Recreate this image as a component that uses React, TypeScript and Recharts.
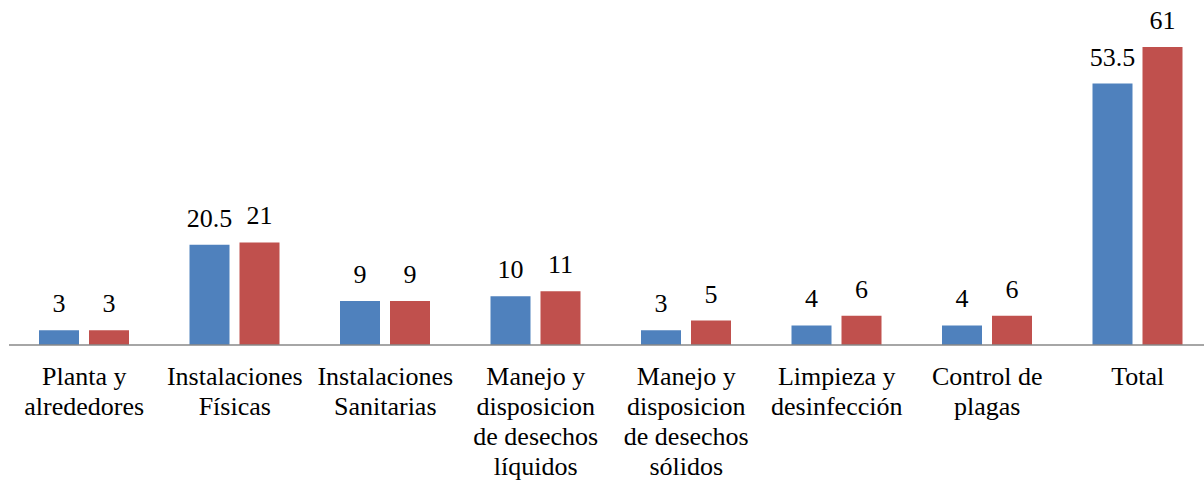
import * as React from "react";
import { BarChart, Bar, XAxis, YAxis, LabelList } from "recharts";

const categories = [
  "Planta y\nalrededores",
  "Instalaciones\nFísicas",
  "Instalaciones\nSanitarias",
  "Manejo y\ndisposicion\nde desechos\nlíquidos",
  "Manejo y\ndisposicion\nde desechos\nsólidos",
  "Limpieza y\ndesinfección",
  "Control de\nplagas",
  "Total",
];
const serieA = [3, 20.5, 9, 10, 3, 4, 4, 53.5];
const serieB = [3, 21, 9, 11, 5, 6, 6, 61];

const data = categories.map((name, i) => ({ name, a: serieA[i], b: serieB[i] }));

const font = "Liberation Serif, Times New Roman, DejaVu Serif, serif";

function CategoryTick(props: any) {
  const { x, y, payload } = props;
  const lines = String(payload.value).split("\n");
  return (
    <text
      x={x}
      y={y + 40}
      textAnchor="middle"
      style={{ fontFamily: font, fontSize: 26 }}
      fill="#000"
    >
      {lines.map((line, i) => (
        <tspan key={i} x={x} dy={i === 0 ? 0 : 30}>
          {line}
        </tspan>
      ))}
    </text>
  );
}

export default function App() {
  return (
    <div
      style={{
        position: "absolute",
        left: 0,
        top: 0,
        width: 1204,
        height: 480,
        overflow: "hidden",
        background: "#fff",
        fontFamily: font,
      }}
    >
      <BarChart
        width={1213}
        height={480}
        data={data}
        margin={{ top: 3, right: 0, left: 9, bottom: 0 }}
        barSize={40}
        barGap={10}
        style={{ fontFamily: font }}
      >
        <XAxis
          dataKey="name"
          height={135}
          interval={0}
          tickLine={false}
          tickSize={0}
          tickMargin={0}
          stroke="#898989"
          strokeWidth={1.5}
          tick={<CategoryTick />}
        />
        <YAxis hide domain={[0, 70]} />
        <Bar dataKey="a" fill="#4F81BD" isAnimationActive={false}>
          <LabelList
            dataKey="a"
            position="top"
            offset={18}
            fill="#000"
            style={{ fontFamily: font, fontSize: 26 }}
          />
        </Bar>
        <Bar dataKey="b" fill="#C0504D" isAnimationActive={false}>
          <LabelList
            dataKey="b"
            position="top"
            offset={18}
            fill="#000"
            style={{ fontFamily: font, fontSize: 26 }}
          />
        </Bar>
      </BarChart>
    </div>
  );
}
